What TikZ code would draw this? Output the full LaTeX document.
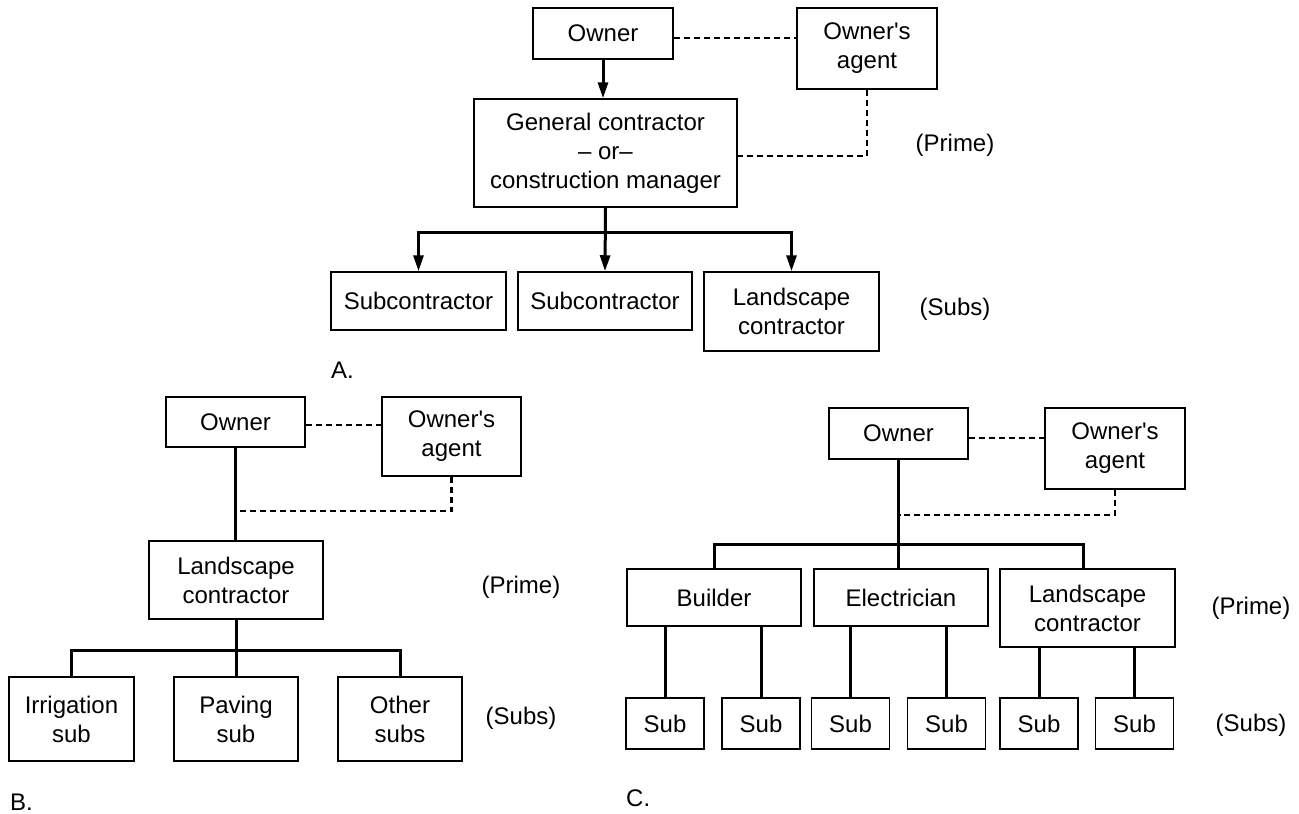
\documentclass[tikz,border=0pt]{standalone}
\usepackage{fontspec}
\setmainfont{Liberation Sans}
\usetikzlibrary{arrows.meta}
\begin{document}
\begin{tikzpicture}[x=1pt,y=-1pt,
  txt/.style={font=\fontsize{24}{29}\selectfont, align=center, inner sep=0pt},
  box/.style={txt, draw, line width=1.5pt},
  conn/.style={line width=3pt},
  dashln/.style={line width=2.6pt, dash pattern=on 6pt off 4pt},
  tip/.style={-{Triangle[length=16pt,width=10pt]}},
  tips/.style={{Triangle[length=16pt,width=10pt]}-{Triangle[length=16pt,width=10pt]}}]
\useasboundingbox (0,0) rectangle (1299,814);

% ---------- A ----------
\node[box, minimum width=140, minimum height=51] (aown) at (603,33.5) {Owner};
\node[box, minimum width=140, minimum height=81] (aagt) at (867,48.5) {Owner\textquotesingle s\\agent};
\node[box, minimum width=263, minimum height=108] (agc) at (605.5,153) {General contractor\\– or–\\construction manager};
\node[box, minimum width=175, minimum height=58] (as1) at (418.5,301) {Subcontractor};
\node[box, minimum width=174, minimum height=58] (as2) at (605,301) {Subcontractor};
\node[box, minimum width=175, minimum height=79] (as3) at (791.5,311.5) {Landscape\\contractor};
\node[txt] (apr) at (955,145) {(Prime)};
\node[txt] (asb) at (955,309) {(Subs)};
\node[txt, anchor=west] (alab) at (331,370) {A.};

\draw[conn,tip] (aown.south) -- (aown.south |- agc.north);
\draw[dashln] (aown.east |- 0,38) -- (aagt.west |- 0,38);
\draw[dashln] (aagt.south) -- (aagt.south |- 0,156) -- (agc.east |- 0,156);
\draw[conn,tips] (as1.north) -- (as1.north |- 0,232) -- (as3.north |- 0,232) -- (as3.north);
\draw[conn,tip] (agc.south) -- (as2.north);

% ---------- B ----------
\node[box, minimum width=139, minimum height=50] (bown) at (235.5,422) {Owner};
\node[box, minimum width=139, minimum height=79] (bagt) at (451.5,436.5) {Owner\textquotesingle s\\agent};
\node[box, minimum width=174, minimum height=78] (blc) at (236,580) {Landscape\\contractor};
\node[box, minimum width=125, minimum height=84] (bs1) at (71.5,719) {Irrigation\\sub};
\node[box, minimum width=124, minimum height=84] (bs2) at (236,719) {Paving\\sub};
\node[box, minimum width=124, minimum height=84] (bs3) at (400,719) {Other\\subs};
\node[txt] (bpr) at (521,587) {(Prime)};
\node[txt] (bsb) at (521,718) {(Subs)};
\node[txt, anchor=west] (blab) at (10,802) {B.};

\draw[conn] (bown.south) -- (bown.south |- blc.north);
\draw[dashln] (bown.east |- 0,425) -- (bagt.west |- 0,425);
\draw[dashln] (bagt.south) -- (bagt.south |- 0,511) -- ([xshift=1.5pt]bown.south |- 0,511);
\draw[conn] (bs1.north) -- (bs1.north |- 0,650) -- (bs3.north |- 0,650) -- (bs3.north);
\draw[conn] (blc.south) -- (bs2.north);

% ---------- C ----------
\node[box, minimum width=139, minimum height=51] (cown) at (898.5,433.5) {Owner};
\node[box, minimum width=140, minimum height=81] (cagt) at (1115,448.5) {Owner\textquotesingle s\\agent};
\node[box, minimum width=174, minimum height=57] (cbu) at (714,597.5) {Builder};
\node[box, minimum width=174, minimum height=57] (cel) at (901,597.5) {Electrician};
\node[box, minimum width=175, minimum height=78] (clc) at (1087.5,608) {Landscape\\contractor};
\foreach \n/\x in {1/665,2/761,3/850.5,4/946.5,5/1039,6/1134.5}
  \node[box, minimum width=78, minimum height=51] (cs\n) at (\x,723.5) {Sub};
\node[txt] (cpr) at (1251,608) {(Prime)};
\node[txt] (csb) at (1251,725) {(Subs)};
\node[txt, anchor=west] (clab) at (626,798) {C.};

\draw[conn] (cown.south) -- (cown.south |- cel.north);
\draw[dashln] (cown.east |- 0,438) -- (cagt.west |- 0,438);
\draw[dashln] (cagt.south) -- (cagt.south |- 0,515) -- ([xshift=1.5pt]cown.south |- 0,515);
\draw[conn] (cbu.north) -- (cbu.north |- 0,544) -- ([xshift=-4.5pt]clc.north |- 0,544) -- ([xshift=-4.5pt]clc.north);
\draw[conn] (cs1.north) -- (cs1.north |- cbu.south);
\draw[conn] (cs2.north) -- (cs2.north |- cbu.south);
\draw[conn] (cs3.north) -- (cs3.north |- cel.south);
\draw[conn] (cs4.north) -- (cs4.north |- cel.south);
\draw[conn] (cs5.north) -- (cs5.north |- clc.south);
\draw[conn] (cs6.north) -- (cs6.north |- clc.south);
\end{tikzpicture}
\end{document}
